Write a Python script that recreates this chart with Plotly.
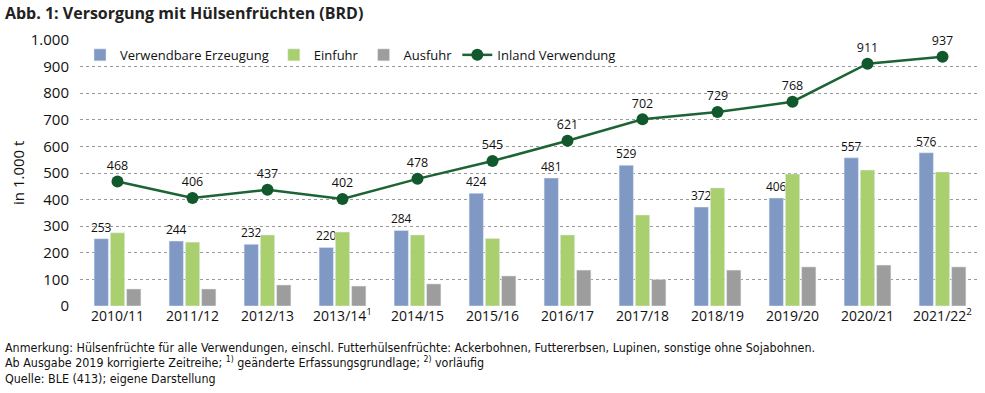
import plotly.graph_objects as go

categories = ["2010/11", "2011/12", "2012/13", "2013/14<sup>1</sup>", "2014/15", "2015/16",
              "2016/17", "2017/18", "2018/19", "2019/20", "2020/21", "2021/22<sup>2</sup>"]
erzeugung = [253, 244, 232, 220, 284, 424, 481, 529, 372, 406, 557, 576]
einfuhr = [275, 240, 267, 278, 267, 254, 267, 342, 444, 496, 511, 504]
ausfuhr = [64, 64, 79, 75, 83, 113, 135, 100, 135, 147, 154, 147]
inland = [468, 406, 437, 402, 478, 545, 621, 702, 729, 768, 911, 937]
y_tickvals = [0, 100, 200, 300, 400, 500, 600, 700, 800, 900, 1000]
y_ticktext = ["0", "100", "200", "300", "400", "500", "600", "700", "800", "900", "1.000"]

FONT = "Open Sans"
NARROW = "DejaVu Sans Condensed"

L, R, T, B = 80, 5, 40, 87
W, H = 985, 393
PW = W - L - R
PH = H - T - B

fig = go.Figure()
fig.add_trace(go.Bar(name="Verwendbare Erzeugung", x=categories, y=erzeugung,
                     marker_color="#7f98c4", text=erzeugung, textposition="outside",
                     constraintext="none",
                     textfont=dict(size=12, color="#111111", family=FONT), cliponaxis=False))
fig.add_trace(go.Bar(name="Einfuhr", x=categories, y=einfuhr, marker_color="#a9cf6e"))
fig.add_trace(go.Bar(name="Ausfuhr", x=categories, y=ausfuhr, marker_color="#9d9d9d"))
fig.add_trace(go.Scatter(name="Inland Verwendung", x=categories, y=inland,
                         mode="lines+markers+text", text=inland, textposition="top center",
                         textfont=dict(size=12.5, color="#111111", family=FONT),
                         line=dict(color="#1d6435", width=2.5),
                         marker=dict(color="#11592c", size=12), cliponaxis=False))

fig.update_layout(
    width=W, height=H,
    margin=dict(l=L, r=R, t=T, b=B, autoexpand=False),
    paper_bgcolor="white", plot_bgcolor="white",
    barmode="group", bargap=0.35, bargroupgap=0.12,
    font=dict(family=FONT, size=13, color="#111111"),
    showlegend=True,
    legend=dict(orientation="h", x=0.0, xanchor="left", y=0.944, yanchor="middle",
                font=dict(size=13, family=FONT), bgcolor="rgba(0,0,0,0)",
                itemwidth=30, tracegroupgap=0),
    title=dict(text="<b>Abb. 1: Versorgung mit Hülsenfrüchten (BRD)</b>", x=0.005, xanchor="left",
               y=0.965, yanchor="middle", font=dict(size=16, family=FONT, color="#222222")),
)
fig.update_yaxes(range=[0, 1000], tickvals=y_tickvals, ticktext=y_ticktext,
                 showgrid=True, gridcolor="#9a9a9a", griddash="dot", gridwidth=1,
                 zeroline=False, showline=False, ticks="", ticklen=0,
                 ticklabelstandoff=10, automargin=False,
                 tickfont=dict(size=15, family=FONT))
fig.update_xaxes(range=[-0.5, len(categories) - 0.5], showgrid=False, showline=False, ticks="",
                 automargin=False, tickfont=dict(size=14, family=FONT))

fig.add_annotation(text="in 1.000 t", xref="paper", yref="paper", x=(18 - L) / PW, xanchor="center",
                   y=0.5, yanchor="middle", textangle=-90, showarrow=False,
                   font=dict(size=15, family=FONT, color="#111111"))

notes = [
    "Anmerkung: Hülsenfrüchte für alle Verwendungen, einschl. Futterhülsenfrüchte: Ackerbohnen, Futtererbsen, Lupinen, sonstige ohne Sojabohnen.",
    "Ab Ausgabe 2019 korrigierte Zeitreihe; <sup>1)</sup> geänderte Erfassungsgrundlage; <sup>2)</sup> vorläufig",
    "Quelle: BLE (413); eigene Darstellung",
]
note_y = [347, 362, 378]
for t, yp in zip(notes, note_y):
    fig.add_annotation(text=t, xref="paper", yref="paper", x=(3 - L) / PW, xanchor="left",
                       y=(H - B - yp) / PH, yanchor="middle", showarrow=False,
                       font=dict(size=12.4, family=NARROW, color="#111111"))

fig.write_html("out.html", config={"displayModeBar": False},
               post_script="document.body.style.margin='0';")
